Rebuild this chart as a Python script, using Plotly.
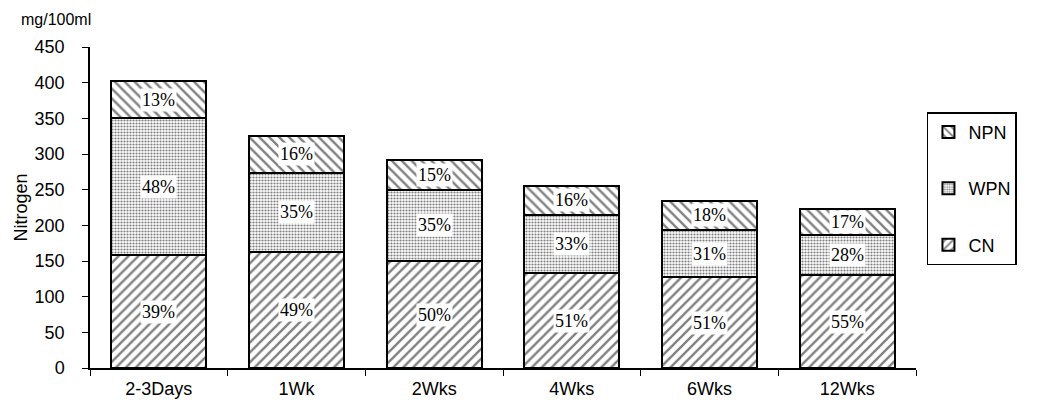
import plotly.graph_objects as go

categories = ["2-3Days", "1Wk", "2Wks", "4Wks", "6Wks", "12Wks"]
cn = [158, 162, 150, 133, 127, 130]
wpn = [192, 112, 100, 82, 67, 57]
npn = [52, 51, 42, 40, 40, 36]
cn_pct = ["39%", "49%", "50%", "51%", "51%", "55%"]
wpn_pct = ["48%", "35%", "35%", "33%", "31%", "28%"]
npn_pct = ["13%", "16%", "15%", "16%", "18%", "17%"]

fig = go.Figure()
series = [
    ("CN", cn, "/", 0.33, 7, 3),
    ("WPN", wpn, ".", 0.42, 3, 2),
    ("NPN", npn, "\\", 0.33, 7, 1),
]
for name, vals, shape, sol, sz, rank in series:
    fig.add_trace(go.Bar(
        x=categories, y=vals, name=name, legendgroup=name, legendrank=rank,
        width=0.69,
        marker=dict(color="white", line=dict(color="black", width=2),
                    pattern=dict(shape=shape, fgcolor="black", bgcolor="white",
                                 solidity=sol, size=sz)),
    ))

annotations = []
for i, cat in enumerate(categories):
    base = 0
    for vals, pcts in [(cn, cn_pct), (wpn, wpn_pct), (npn, npn_pct)]:
        annotations.append(dict(
            x=cat, y=base + vals[i] / 2, text=pcts[i], showarrow=False,
            font=dict(family="Liberation Serif", size=18, color="black"),
            bgcolor="white", borderpad=1,
        ))
        base += vals[i]

# page body has an 8px margin, so figure is sized/offset to fit the window
OFF = 8
W, H = 1044 - OFF, 411 - OFF
L, R, T, B = 86 - OFF, W - (916 - OFF), 47 - OFF, H - (372 - OFF)
pw, ph = W - L - R, H - T - B

annotations.append(dict(
    x=(15 - OFF - L) / pw, xref="paper", xanchor="left",
    y=(H - B - 1) / ph, yref="paper", yanchor="top",
    text="mg/100ml", showarrow=False,
    font=dict(family="Liberation Sans", size=16, color="black"),
))

fig.update_layout(
    width=W, height=H,
    margin=dict(l=L, r=R, t=T, b=B),
    barmode="stack",
    plot_bgcolor="white", paper_bgcolor="white",
    font=dict(family="Liberation Sans", size=18, color="black"),
    annotations=annotations,
    showlegend=True,
    legend=dict(
        x=(927 - OFF - L) / pw, y=(H - B - (113 - OFF)) / ph, xanchor="left", yanchor="top",
        traceorder="grouped", tracegroupgap=30,
        bordercolor="black", borderwidth=1.5, bgcolor="white",
        font=dict(size=18), itemwidth=30,
    ),
    xaxis=dict(
        showline=True, linecolor="black", linewidth=1.5,
        ticks="outside", ticklen=6, tickcolor="black", tickson="boundaries",
        showgrid=False, tickfont=dict(size=18), ticklabelstandoff=4,
    ),
    yaxis=dict(
        range=[0, 450], dtick=50, showline=True, linecolor="black", linewidth=1.5,
        ticks="outside", ticklen=6, tickcolor="black", showgrid=False, zeroline=False,
        title=dict(text="Nitrogen", standoff=2, font=dict(size=18)),
        tickfont=dict(size=18), ticklabelstandoff=14,
    ),
)

fig.write_html("out.html")
